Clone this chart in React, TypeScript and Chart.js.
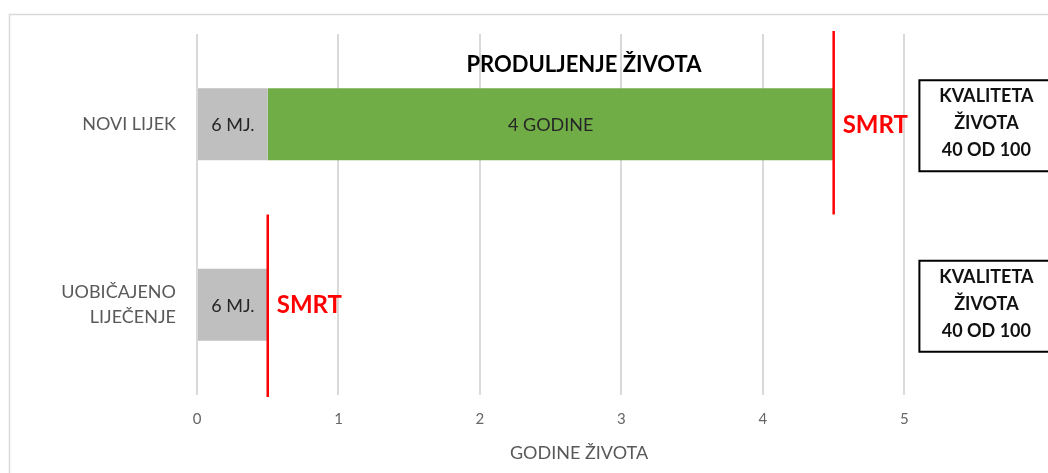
import React, { useEffect, useRef } from "react";
import { Chart, registerables } from "chart.js";

Chart.register(...registerables);

const categories: (string | string[])[] = ["NOVI LIJEK", ["UOBIČAJENO", "LIJEČENJE"]];
const baselineYears = [0.5, 0.5];
const extensionYears = [4, 0];
const baselineLabels = ["6 MJ.", "6 MJ."];
const extensionLabels = ["4 GODINE", ""];
const deathLabel = "SMRT";
const qualityLines = ["KVALITETA", "ŽIVOTA", "40 OD 100"];
const annotationTitle = "PRODULJENJE ŽIVOTA";
const axisTitle = "GODINE ŽIVOTA";
const xTickValues = [0, 1, 2, 3, 4, 5];
const xMax = 5.4;

const FONT = "Lato, 'Open Sans', sans-serif";

const annotPlugin = {
  id: "annot",
  beforeDraw(chart: any) {
    const ctx = chart.ctx;
    ctx.save();
    ctx.strokeStyle = "#d9d9d9";
    ctx.lineWidth = 1.5;
    ctx.strokeRect(9.5, 14.5, chart.width + 20, chart.height + 20);
    ctx.restore();
  },
  afterDatasetsDraw(chart: any) {
    const ctx = chart.ctx;
    const xs = chart.scales.x;
    const ys = chart.scales.y;
    const area = chart.chartArea;
    ctx.save();

    // bar value labels
    const labelSets = [baselineLabels, extensionLabels];
    labelSets.forEach((labels, di) => {
      const meta = chart.getDatasetMeta(di);
      meta.data.forEach((el: any, i: number) => {
        const txt = labels[i];
        if (!txt) return;
        ctx.fillStyle = "#262626";
        ctx.font = `18px ${FONT}`;
        ctx.textAlign = "center";
        ctx.textBaseline = "middle";
        ctx.fillText(txt, (el.x + el.base) / 2, el.y + 1);
      });
    });

    // death lines + SMRT labels
    const n = categories.length;
    const band = (area.bottom - area.top) / n;
    for (let i = 0; i < n; i++) {
      const total = baselineYears[i] + extensionYears[i];
      const px = xs.getPixelForValue(total);
      const cy = ys.getPixelForValue(i);
      ctx.strokeStyle = "#ff0000";
      ctx.lineWidth = 2.5;
      ctx.beginPath();
      ctx.moveTo(px, cy - band / 2 - (i === 0 ? 3 : 0));
      ctx.lineTo(px, cy + band / 2 + (i === n - 1 ? 2 : 0));
      ctx.stroke();
      ctx.fillStyle = "#ff0000";
      ctx.font = `bold 24px ${FONT}`;
      ctx.textAlign = "left";
      ctx.textBaseline = "middle";
      ctx.fillText(deathLabel, px + 9, cy + 1);

      // quality boxes
      const bx = xs.getPixelForValue(5) + 15;
      const top = cy - 44;
      const bottom = cy + 47;
      ctx.fillStyle = "#ffffff";
      ctx.fillRect(bx, top, chart.width - bx + 10, bottom - top);
      ctx.strokeStyle = "#000000";
      ctx.lineWidth = 2;
      ctx.strokeRect(bx, top, chart.width - bx + 10, bottom - top);
      ctx.fillStyle = "#111111";
      ctx.font = `bold 18px ${FONT}`;
      ctx.textAlign = "center";
      qualityLines.forEach((ln, k) => {
        ctx.fillText(ln, bx + 67, cy - 1 + (k - 1) * 27);
      });
    }

    // annotation title
    ctx.fillStyle = "#000000";
    ctx.font = `bold 22px ${FONT}`;
    ctx.textAlign = "center";
    ctx.textBaseline = "middle";
    ctx.fillText(annotationTitle, (area.left + area.right) / 2 + 5, 65);
    ctx.restore();
  },
};

export default function App() {
  const ref = useRef<HTMLCanvasElement | null>(null);
  useEffect(() => {
    if (!ref.current) return;
    const chart = new Chart(ref.current, {
      type: "bar",
      data: {
        labels: categories as any,
        datasets: [
          {
            label: "baseline",
            data: baselineYears,
            backgroundColor: "#bfbfbf",
            barPercentage: 0.5,
            categoryPercentage: 0.8,
          },
          {
            label: "extension",
            data: extensionYears,
            backgroundColor: "#70ad47",
            barPercentage: 0.5,
            categoryPercentage: 0.8,
          },
        ],
      },
      options: {
        indexAxis: "y",
        responsive: false,
        animation: false,
        layout: { padding: { top: 34, right: 87, left: 0, bottom: 0 } },
        plugins: {
          legend: { display: false },
          tooltip: { enabled: false },
          title: { display: false },
        },
        scales: {
          x: {
            stacked: true,
            min: 0,
            max: xMax,
            afterBuildTicks: (scale: any) => {
              scale.ticks = xTickValues.map((v) => ({ value: v }));
            },
            afterFit: (scale: any) => {
              scale.height = 78;
              scale.paddingLeft = 0;
              scale.paddingRight = 0;
            },
            ticks: {
              stepSize: 1,
              color: "#666666",
              font: { family: FONT, size: 15 },
              padding: 15,
            },
            grid: { color: "#d9d9d9", lineWidth: 2, drawTicks: false },
            border: { display: false },
            title: {
              display: true,
              text: axisTitle,
              color: "#595959",
              font: { family: FONT, size: 18 },
              padding: { top: 4, bottom: 9 },
            },
          },
          y: {
            stacked: true,
            afterFit: (scale: any) => {
              scale.width = 197;
              scale.paddingTop = 0;
              scale.paddingBottom = 0;
            },
            ticks: {
              color: "#595959",
              font: { family: FONT, size: 18, lineHeight: 1.42 },
              padding: 21,
              crossAlign: "near",
            },
            grid: { display: false, drawTicks: false },
            border: { display: false },
          },
        },
      },
      plugins: [annotPlugin],
    });
    return () => chart.destroy();
  }, []);
  return (
    <div style={{ position: "fixed", left: 0, top: 0, width: 1048, height: 473, background: "#ffffff" }}>
      <canvas ref={ref} width={1048} height={473} />
    </div>
  );
}
